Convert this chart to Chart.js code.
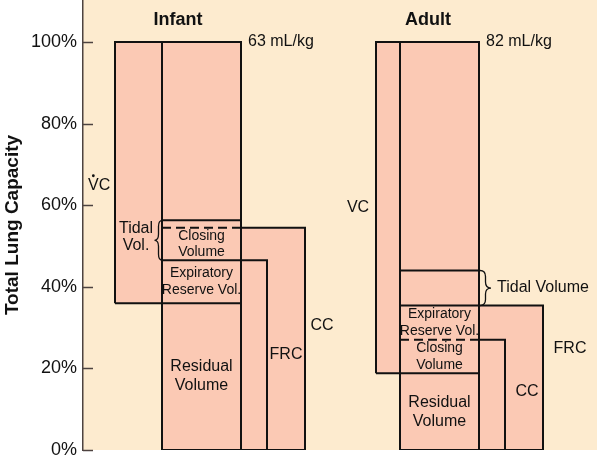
<!DOCTYPE html>
<html>
<head>
<meta charset="utf-8">
<script src="https://cdn.jsdelivr.net/npm/chart.js@4/dist/chart.umd.min.js"></script>
<style>
  body { margin: 0; background: #fff; }
  #wrap { width: 600px; height: 460px; }
</style>
</head>
<body>
<div id="wrap"><canvas id="lungChart"></canvas></div>
<script>
// values, % of total lung capacity
const groups = ['Infant', 'Adult'];
const specificVolume = ['63 mL/kg', '82 mL/kg'];
const totalCapacity = [100, 100];
const tidalTop = [56.3, 44];
const functionalResidual = [46.5, 35.4];
const closingCapacity = [54.5, 27];
const residualVolume = [36, 18.8];
const yTicks = [0, 20, 40, 60, 80, 100];

// column layout along the (hidden) x axis
const columns = [
    { vc: [32, 79], main: [79, 158], inner: 184, outer: 222 },
    { vc: [293, 317], main: [317, 396], inner: 422, outer: 460 }
];

const INK = '#111111';
const FILL = '#fbc9b4';
const PAPER = '#fdebcf';
const AXIS = '#4d4340';
const FONT = "'Liberation Sans', Arial, Helvetica, sans-serif";

function rect(x0, x1, y0, y1, order) {
    return {
        data: [{x: x0, y: y0}, {x: x1, y: y0}, {x: x1, y: y1}, {x: x0, y: y1}, {x: x0, y: y0}],
        fill: 'shape',
        backgroundColor: FILL,
        borderColor: INK,
        borderWidth: 2,
        pointRadius: 0,
        tension: 0,
        order: order
    };
}

function hline(x0, x1, y, dashed) {
    return {
        data: [{x: x0, y: y}, {x: x1, y: y}],
        fill: false,
        borderColor: INK,
        borderWidth: 2,
        borderDash: dashed ? [9, 5] : [],
        pointRadius: 0,
        order: 1
    };
}

const datasets = [];
groups.forEach((g, i) => {
    const c = columns[i];
    // side boxes: taller one sits behind and reaches further right
    const side = [functionalResidual[i], closingCapacity[i]].sort((a, b) => b - a);
    datasets.push(rect(c.main[1], c.outer, 0, side[0], 10));
    datasets.push(rect(c.main[1], c.inner, 0, side[1], 9));
    datasets.push(rect(c.vc[0], c.vc[1], residualVolume[i], totalCapacity[i], 8));
    datasets.push(rect(c.main[0], c.main[1], 0, totalCapacity[i], 7));
    datasets.push(hline(c.main[0], c.main[1], tidalTop[i], false));
    datasets.push(hline(c.main[0], c.main[1], functionalResidual[i], false));
    datasets.push(hline(c.main[0], c.main[1], closingCapacity[i], true));
    datasets.push(hline(c.main[0], c.main[1], residualVolume[i], false));
});

function mid(a, b) { return (a + b) / 2; }
function midX(i) { return mid(columns[i].main[0], columns[i].main[1]); }

const labels = [
    {text: ['Infant'], x: 95, y: 105.4, size: 18, bold: true},
    {text: [specificVolume[0]], x: 165, y: totalCapacity[0], align: 'left'},
    {text: ['VC'], x: 5, y: 64.7, align: 'left', dot: 10.3},
    {text: ['Tidal', 'Vol.'], x: 53, y: 52.1, lh: 17},
    {text: ['Closing', 'Volume'], x: midX(0), y: mid(closingCapacity[0], functionalResidual[0]), size: 14, lh: 16},
    {text: ['Expiratory', 'Reserve Vol.'], x: midX(0), y: mid(functionalResidual[0], residualVolume[0]), size: 14, lh: 17},
    {text: ['Residual', 'Volume'], x: midX(0), y: mid(0, residualVolume[0]), lh: 19},
    {text: ['FRC'], x: 203, y: 23.3},
    {text: ['CC'], x: 239, y: 30.6},
    {text: ['Adult'], x: 345, y: 105.4, size: 18, bold: true},
    {text: [specificVolume[1]], x: 403, y: totalCapacity[1], align: 'left'},
    {text: ['VC'], x: 275, y: 59.3},
    {text: ['Tidal Volume'], x: 414, y: mid(tidalTop[1], functionalResidual[1]), align: 'left'},
    {text: ['Expiratory', 'Reserve Vol.'], x: midX(1), y: mid(functionalResidual[1], closingCapacity[1]), size: 14, lh: 17},
    {text: ['Closing', 'Volume'], x: midX(1), y: mid(closingCapacity[1], residualVolume[1]), size: 14, lh: 17},
    {text: ['Residual', 'Volume'], x: midX(1), y: mid(0, residualVolume[1]), lh: 19},
    {text: ['CC'], x: 444, y: 14.2},
    {text: ['FRC'], x: 487, y: 24.8}
];

// braces around the tidal volume
const braces = [
    {x: columns[0].main[0] + 0.5, top: tidalTop[0], bottom: functionalResidual[0], dir: -1, w: 8},
    {x: columns[1].main[1] + 1, top: tidalTop[1], bottom: functionalResidual[1], dir: 1, w: 11}
];

function drawBrace(ctx, x, y0, y1, dir, w) {
    const m = (y0 + y1) / 2;
    const r = Math.min(6, (y1 - y0) / 4);
    const xs = x + dir * w / 2;
    ctx.beginPath();
    ctx.moveTo(x, y0);
    ctx.quadraticCurveTo(xs, y0, xs, y0 + r);
    ctx.lineTo(xs, m - r);
    ctx.quadraticCurveTo(xs, m, x + dir * w, m);
    ctx.quadraticCurveTo(xs, m, xs, m + r);
    ctx.lineTo(xs, y1 - r);
    ctx.quadraticCurveTo(xs, y1, x, y1);
    ctx.stroke();
}

const diagramPlugin = {
    id: 'diagram',
    beforeDraw(chart) {
        const {ctx, chartArea: a} = chart;
        ctx.save();
        ctx.fillStyle = PAPER;
        ctx.fillRect(a.left, a.top, a.right - a.left, a.bottom - a.top);
        ctx.restore();
    },
    afterDatasetsDraw(chart) {
        const {ctx, scales: {x, y}} = chart;
        ctx.save();
        // inward tick marks
        ctx.strokeStyle = AXIS;
        ctx.lineWidth = 1.5;
        yTicks.forEach(v => {
            const py = Math.round(y.getPixelForValue(v)) + 0.5;
            ctx.beginPath();
            ctx.moveTo(x.left, py);
            ctx.lineTo(x.left + 10, py);
            ctx.stroke();
        });
        ctx.strokeStyle = INK;
        ctx.lineWidth = 1.3;
        braces.forEach(b => {
            drawBrace(ctx, x.getPixelForValue(b.x), y.getPixelForValue(b.top),
                y.getPixelForValue(b.bottom), b.dir, b.w);
        });
        ctx.fillStyle = INK;
        ctx.textBaseline = 'middle';
        labels.forEach(l => {
            const size = l.size || 16;
            const lh = l.lh || size * 1.15;
            ctx.font = (l.bold ? 'bold ' : '') + size + 'px ' + FONT;
            ctx.textAlign = l.align || 'center';
            const px = x.getPixelForValue(l.x);
            const py = y.getPixelForValue(l.y) - (l.text.length - 1) * lh / 2;
            l.text.forEach((t, k) => ctx.fillText(t, px, py + k * lh));
            if (l.dot) {
                // flow-rate dot over the V
                const vw = ctx.measureText('V').width;
                ctx.beginPath();
                ctx.arc(px + vw / 2, py - l.dot, 1.4, 0, Math.PI * 2);
                ctx.fill();
            }
        });
        ctx.restore();
    }
};

Chart.defaults.font.family = FONT;

new Chart(document.getElementById('lungChart'), {
    type: 'line',
    data: { datasets: datasets },
    options: {
        responsive: true,
        maintainAspectRatio: false,
        animation: false,
        layout: { padding: { left: 0, right: 3, top: 0, bottom: 10 } },
        plugins: {
            legend: { display: false },
            tooltip: { enabled: false }
        },
        scales: {
            x: { type: 'linear', min: 0, max: 514, display: false },
            y: {
                min: 0,
                max: 110.3,
                afterFit: (scale) => {
                    scale.width = 83;
                    scale.paddingTop = 0;
                    scale.paddingBottom = 0;
                },
                afterBuildTicks: (scale) => { scale.ticks = yTicks.map(v => ({value: v})); },
                grid: { drawOnChartArea: false, drawTicks: false },
                border: { display: true, color: AXIS, width: 1.5 },
                ticks: {
                    padding: 6,
                    color: INK,
                    font: { size: 18 },
                    callback: (v) => v + '%'
                },
                title: {
                    display: true,
                    text: 'Total Lung Capacity',
                    color: INK,
                    font: { size: 19, weight: 'bold' },
                    padding: { top: 1, bottom: 0 }
                }
            }
        }
    },
    plugins: [diagramPlugin]
});
</script>
</body>
</html>
